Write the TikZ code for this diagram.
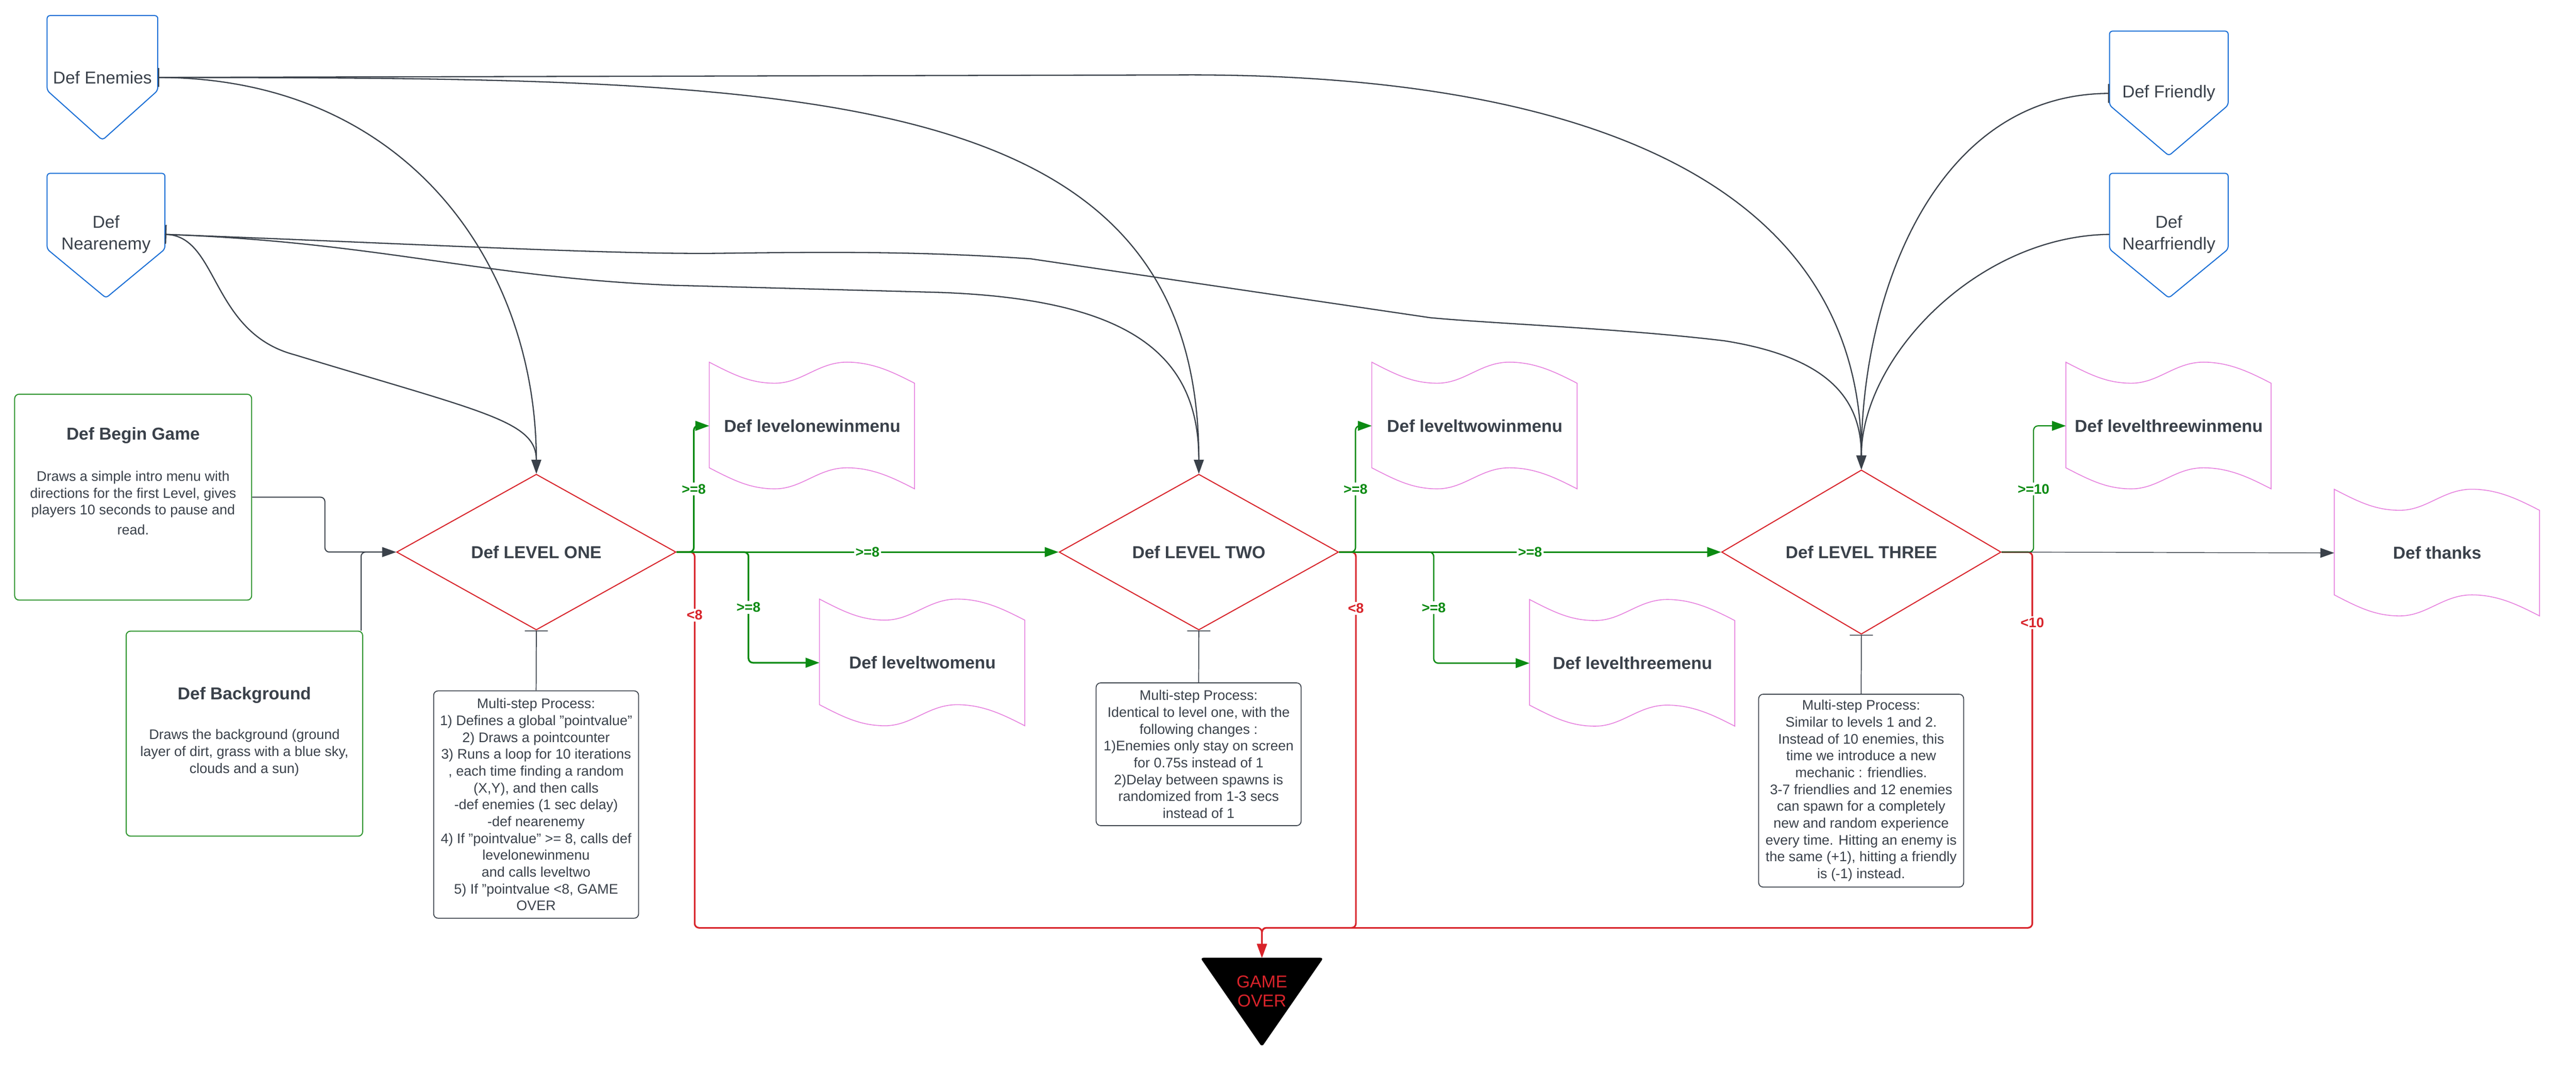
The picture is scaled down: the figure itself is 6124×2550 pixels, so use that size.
\documentclass[tikz,border=0pt]{standalone}
\usepackage{fontspec}
\setmainfont{Liberation Sans}
\usetikzlibrary{shapes.geometric,arrows.meta}
\definecolor{txt}{HTML}{3A414A}
\definecolor{lred}{HTML}{D8232A}
\definecolor{lgreen}{HTML}{0B8A12}
\definecolor{lblue}{HTML}{1A6FD6}
\definecolor{lpink}{HTML}{E67FDE}
\definecolor{gborder}{HTML}{2E952E}
\newcommand\ftitle{\fontsize{11.67pt}{14pt}\selectfont\bfseries}
\newcommand\fbody{\fontsize{9.39pt}{11.38pt}\selectfont}
\newcommand\freg{\fontsize{11.67pt}{14.8pt}\selectfont}
\newcommand\tapeat[1]{\draw[tapeline, shift={(#1.north west)}] (0,0) .. controls (58,30) and (98,50) .. (156,50) .. controls (220,50) and (259,0) .. (327,0) .. controls (390,0) and (439,25) .. (488,50) -- (488,301) .. controls (439,276) and (390,251) .. (327,251) .. controls (259,251) and (220,301) .. (156,301) .. controls (98,301) and (58,281) .. (0,251) -- cycle;}
\begin{document}
\begin{tikzpicture}[x=0.01cm, y=-0.01cm, >={Triangle[length=0.33cm,width=0.23cm]},
 diam/.style={diamond, draw=lred, line width=0.7pt, minimum width=6.64cm, minimum height=3.70cm, inner sep=0pt, font=\ftitle, text=txt},
 tapenode/.style={rectangle, minimum width=4.88cm, minimum height=3.01cm, inner sep=0pt, font=\ftitle, text=txt},
 tapeline/.style={draw=lpink, line width=0.55pt},
 offp/.style={draw=lblue, line width=0.7pt, rounded corners=2pt},
 offtext/.style={font=\freg, text=txt, align=center, inner sep=0pt},
 gbox/.style={draw=gborder, line width=0.7pt, rounded corners=3pt, inner sep=0pt},
 notebox/.style={draw=txt, line width=0.6pt, rounded corners=3pt, inner sep=0pt, align=center, font=\fbody, text=txt, minimum width=4.87cm},
 glbl/.style={fill=white, inner sep=1pt, font=\fbody\bfseries, text=lgreen},
 rlbl/.style={fill=white, inner sep=1pt, font=\fbody\bfseries, text=lred},
 grn/.style={draw=lgreen, line width=1.15pt, rounded corners=3pt, ->},
 redl/.style={draw=lred, line width=1.1pt, rounded corners=3pt, ->},
 conn/.style={draw=txt, line width=0.7pt, rounded corners=3pt, ->},
 crv/.style={draw=txt, line width=0.8pt, ->},
 nconn/.style={draw=txt, line width=0.6pt, {Bar[width=0.55cm]}-}
]
\fill[white] (0,0) rectangle (6124,2550);
\useasboundingbox (0,0) rectangle (6124,2550);

% off-page connectors
\draw[offp] (112,37) -- (375,37) -- (375,215) -- (243.5,333) -- (112,215) -- cycle;
\node[offtext, minimum width=2.63cm] (ene) at (243.5,184) {Def Enemies};
\draw[offp] (112,412) -- (392,412) -- (392,592) -- (252,708) -- (112,592) -- cycle;
\node[offtext, minimum width=2.80cm] (nen) at (252,557) {Def\\Nearenemy};
\draw[offp] (5015,74) -- (5297,74) -- (5297,250) -- (5156,370) -- (5015,250) -- cycle;
\node[offtext, minimum width=2.82cm] (fr) at (5156,222) {Def Friendly};
\draw[offp] (5015,412) -- (5297,412) -- (5297,592) -- (5156,708) -- (5015,592) -- cycle;
\node[offtext, minimum width=2.82cm] (nfr) at (5156,557) {Def\\Nearfriendly};

% diamonds
\node[diam] (l1) at (1275,1312) {Def LEVEL ONE};
\node[diam] (l2) at (2850,1312) {Def LEVEL TWO};
\node[diam] (l3) at (4425,1312) {Def LEVEL THREE};

% tape shapes
\node[tapenode] (w1) at (1931,1012) {Def levelonewinmenu};
\node[tapenode] (w2) at (3506,1012) {Def leveltwowinmenu};
\node[tapenode] (w3) at (5156,1012) {Def levelthreewinmenu};
\node[tapenode] (m2) at (2193,1575) {Def leveltwomenu};
\node[tapenode] (m3) at (3881,1576) {Def levelthreemenu};
\node[tapenode] (th) at (5794,1314) {Def thanks};
\tapeat{w1}\tapeat{w2}\tapeat{w3}\tapeat{m2}\tapeat{m3}\tapeat{th}

% green boxes
\node[gbox, minimum width=5.63cm, minimum height=4.89cm] (bg) at (316.5,1181.5) {};
\node[font=\ftitle, text=txt] (bgt) at (316.5,1035) {Def Begin Game};
\node[font=\fbody, text=txt, align=center] (bgb) at (316.5,1195) {Draws a simple intro menu with\\directions for the first Level, gives\\players 10 seconds to pause and\\[2pt]read.};
\node[gbox, minimum width=5.62cm, minimum height=4.87cm] (bk) at (581,1743.5) {};
\node[font=\ftitle, text=txt] (bkt) at (581,1652) {Def Background};
\node[font=\fbody, text=txt, align=center] (bkb) at (581,1789) {Draws the background (ground\\layer of dirt, grass with a blue sky,\\clouds and a sun)};

% note boxes
\node[notebox, minimum height=5.40cm] (n1) at (1274.5,1912) {Multi-step Process:\\1) Defines a global "pointvalue"\\2) Draws a pointcounter\\3) Runs a loop for 10 iterations\\, each time finding a random\\(X,Y), and then calls\\-def enemies (1 sec delay)\\-def nearenemy\\4) If "pointvalue" >= 8, calls def\\levelonewinmenu\\and calls leveltwo\\5) If "pointvalue <8, GAME\\OVER};
\node[notebox, minimum height=3.39cm] (n2) at (2849.5,1792.5) {Multi-step Process:\\Identical to level one, with the\\following changes :\\1)Enemies only stay on screen\\for 0.75s instead of 1\\2)Delay between spawns is\\randomized from 1-3 secs\\instead of 1};
\node[notebox, minimum height=4.58cm] (n3) at (4424.5,1879) {Multi-step Process:\\Similar to levels 1 and 2.\\Instead of 10 enemies, this\\time we introduce a new\\mechanic : friendlies.\\3-7 friendlies and 12 enemies\\can spawn for a completely\\new and random experience\\every time. Hitting an enemy is\\the same (+1), hitting a friendly\\is (-1) instead.};

% GAME OVER
\node[minimum width=2.91cm, minimum height=2.10cm, inner sep=0pt] (go) at (3000,2382) {};
\fill[black, rounded corners=2pt] (go.north west) -- (go.north east) -- (go.south) -- cycle;
\node[font=\fontsize{11.67pt}{13.1pt}\selectfont, text=lred, align=center] (gotxt) at (3000,2356) {GAME\\OVER};
\coordinate (bus) at (3000,2205);

% diamond to notes
\draw[nconn] (l1.south) -- (n1.north);
\draw[nconn] (l2.south) -- (n2.north);
\draw[nconn] (l3.south) -- (n3.north);

% start connectors
\draw[conn] (bg.east) -- ++(173,0) |- (l1.west);
\draw[conn] ([xshift=-0.05cm]bk.north east) |- (l1.west);

% curves
\draw[crv, {Bar[width=0.45cm]}->] (ene.east) .. controls (978,186) and (1275,640) .. (l1.north);
\draw[crv] (ene.east) .. controls (1900,186) and (2850,186) .. (l2.north);
\draw[crv] (ene.east) -- (2830,178) .. controls (3700,178) and (4425,400) .. (l3.north);
\draw[crv, {Bar[width=0.45cm]}->] (nen.east) .. controls (520,561) and (500,790) .. (700,843) .. controls (1150,980) and (1275,1000) .. (l1.north);
\draw[crv] (nen.east) .. controls (900,575) and (1150,660) .. (1600,678) -- (2200,694) .. controls (2700,705) and (2850,850) .. (l2.north);
\draw[crv] (nen.east) .. controls (1000,580) and (1450,605) .. (1709,602) .. controls (2000,598) and (2200,598) .. (2450,615) -- (3400,755) .. controls (3560,770) and (3850,780) .. (4100,810) .. controls (4350,850) and (4425,950) .. (l3.north);
\draw[crv, {Bar[width=0.45cm]}->] (fr.west) .. controls (4600,224) and (4425,700) .. (l3.north);
\draw[crv] (nfr.west) .. controls (4700,561) and (4425,850) .. (l3.north);

% red connectors
\draw[redl] (l1.east) -- ++(43,0) |- node[rlbl, pos=0.084]{<8} (bus) -- (go.north);
\draw[redl] (l2.east) -- ++(40,0) |- node[rlbl, pos=0.075]{<8} (bus) -- (go.north);
\draw[redl] (l3.east) -- ++(73,0) |- node[rlbl, pos=0.094]{<10} (bus) -- (go.north);

% green connectors
\draw[grn] (l1.east) -- ++(41,0) |- node[glbl, pos=0.25]{>=8} (w1.west);
\draw[grn] (l1.east) -- ++(171,0) |- node[glbl, pos=0.25]{>=8} (m2.west);
\draw[grn] (l1.east) -- node[glbl, pos=0.5]{>=8} (l2.west);
\draw[grn, line width=0.9pt] (l2.east) -- ++(39,0) |- node[glbl, pos=0.25]{>=8} (w2.west);
\draw[grn, line width=0.9pt] (l2.east) -- ++(225,0) |- node[glbl, pos=0.25]{>=8} (m3.west);
\draw[grn] (l2.east) -- node[glbl, pos=0.5]{>=8} (l3.west);
\draw[grn, line width=0.75pt] (l3.east) -- ++(76,0) |- node[glbl, pos=0.25]{>=10} (w3.west);

% to thanks
\draw[draw=txt, line width=0.5pt, ->] (l3.east) -- (th.west);
\end{tikzpicture}
\end{document}
